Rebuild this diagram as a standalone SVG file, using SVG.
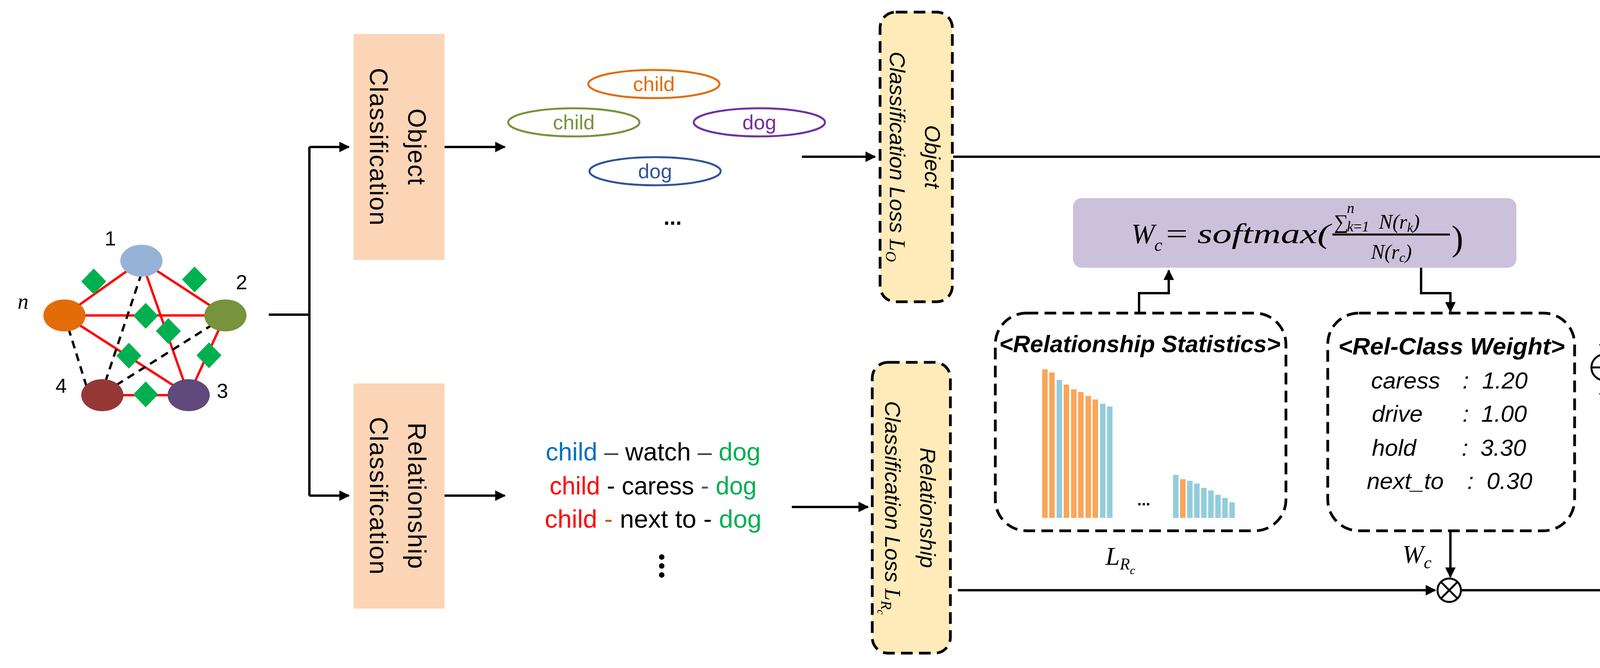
<svg xmlns="http://www.w3.org/2000/svg" width="4401" height="1709" viewBox="0 0 4401 1709">
<style>
.sans{font-family:"Liberation Sans",Arial,sans-serif}
.ser{font-family:"Liberation Serif","Times New Roman",serif;font-style:italic}
.red{stroke:#FF0000;stroke-width:6;fill:none}
.dsh{stroke:#000;stroke-width:6;stroke-dasharray:20 14;fill:none}
.dia{fill:#00B050}
.ln{stroke:#000;stroke-width:6;fill:none}
.box{stroke:#000;stroke-width:7;stroke-dasharray:30 16}
.loss{fill:#FFEBB9}
.or{fill:#FBD5B5}
.lt{font-size:56px;font-style:italic}
.wt{font-size:60px;font-style:italic}
</style>
<defs>
<marker id="ar" viewBox="0 0 10 10" refX="9" refY="5" markerWidth="5" markerHeight="4.5" orient="auto" markerUnits="strokeWidth"><path d="M0,0 L10,5 L0,10 z" fill="#000"/></marker>
</defs>
<rect width="4401" height="1709" fill="#fff"/>

<g id="graph">
<line class="red" x1="165" y1="807" x2="362" y2="667"/>
<line class="red" x1="362" y1="667" x2="577" y2="807"/>
<line class="red" x1="165" y1="807" x2="577" y2="807"/>
<line class="red" x1="165" y1="807" x2="483" y2="1011"/>
<line class="red" x1="362" y1="667" x2="483" y2="1011"/>
<line class="red" x1="577" y1="807" x2="483" y2="1011"/>
<line class="red" x1="262" y1="1011" x2="483" y2="1011"/>
<line class="dsh" x1="165" y1="807" x2="225" y2="1000"/>
<line class="dsh" x1="362" y1="700" x2="262" y2="1000"/>
<line class="dsh" x1="545" y1="830" x2="290" y2="990"/>
<ellipse cx="362" cy="667" rx="54" ry="41" fill="#95B3D7"/>
<ellipse cx="577" cy="807" rx="54" ry="41" fill="#77933C"/>
<ellipse cx="165" cy="807" rx="54" ry="41" fill="#E36C09"/>
<ellipse cx="262" cy="1011" rx="54" ry="41" fill="#953735"/>
<ellipse cx="483" cy="1011" rx="54" ry="41" fill="#604A7B"/>
<g class="dia">
<path d="M240,687 L272,720 L240,753 L208,720 z"/>
<path d="M498,682 L530,715 L498,748 L466,715 z"/>
<path d="M373,775 L405,808 L373,841 L341,808 z"/>
<path d="M431,814 L463,847 L431,880 L399,847 z"/>
<path d="M330,877 L362,910 L330,943 L298,910 z"/>
<path d="M535,876 L567,909 L535,942 L503,909 z"/>
<path d="M373,976 L405,1009 L373,1042 L341,1009 z"/>
</g>
<g class="sans" font-size="52">
<text x="268" y="628">1</text>
<text x="604" y="740">2</text>
<text x="142" y="1005">4</text>
<text x="555" y="1018">3</text>
</g>
<text class="ser" x="45" y="790" font-size="56">n</text>
</g>

<g id="connectors">
<path class="ln" d="M688,805 H792"/>
<path class="ln" d="M792,376 V1268"/>
<line class="ln" x1="792" y1="376" x2="893" y2="376" marker-end="url(#ar)"/>
<line class="ln" x1="792" y1="1268" x2="893" y2="1268" marker-end="url(#ar)"/>
<line class="ln" x1="1138" y1="376" x2="1292" y2="376" marker-end="url(#ar)"/>
<line class="ln" x1="1138" y1="1268" x2="1292" y2="1268" marker-end="url(#ar)"/>
<line class="ln" x1="2053" y1="401" x2="2240" y2="401" marker-end="url(#ar)"/>
<line class="ln" x1="2027" y1="1297" x2="2222" y2="1297" marker-end="url(#ar)"/>
<path class="ln" d="M2440,401 H4107 V905" marker-end="url(#ar)"/>
<path class="ln" d="M2916,801 V750 H2992 V692" marker-end="url(#ar)"/>
<path class="ln" d="M3638,685 V750 H3713 V797" marker-end="url(#ar)"/>
<path class="ln" d="M3713,1358 V1476" marker-end="url(#ar)"/>
<line class="ln" x1="2452" y1="1510" x2="3674" y2="1510" marker-end="url(#ar)"/>
<path class="ln" d="M3742,1510 H4107 V985" marker-end="url(#ar)"/>
<line class="ln" x1="4141" y1="940" x2="4212" y2="940" marker-end="url(#ar)" stroke-width="4"/>
<circle cx="4107" cy="940" r="33" fill="none" stroke="#000" stroke-width="5"/>
<path d="M4074,940 H4140 M4107,907 V973" stroke="#000" stroke-width="5"/>
<circle cx="3710" cy="1510" r="30" fill="none" stroke="#000" stroke-width="5"/>
<path d="M3689,1489 L3731,1531 M3731,1489 L3689,1531" stroke="#000" stroke-width="5"/>
</g>

<g id="obj-cls">
<rect class="or" x="905" y="87" width="233" height="578"/>
<text class="sans" font-size="64" text-anchor="middle" letter-spacing="2" transform="translate(1021,376) rotate(90)"><tspan x="0" y="-24">Object</tspan><tspan x="0" y="74">Classification</tspan></text>
</g>
<g id="rel-cls">
<rect class="or" x="905" y="981" width="233" height="576"/>
<text class="sans" font-size="64" text-anchor="middle" letter-spacing="2" transform="translate(1021,1269) rotate(90)"><tspan x="0" y="-24">Relationship</tspan><tspan x="0" y="74">Classification</tspan></text>
</g>

<g id="objects" class="sans" font-size="52" text-anchor="middle">
<ellipse cx="1674" cy="215" rx="168" ry="36" fill="none" stroke="#E36C09" stroke-width="5"/>
<text x="1674" y="233" fill="#E36C09">child</text>
<ellipse cx="1469" cy="313" rx="168" ry="36" fill="none" stroke="#77933C" stroke-width="5"/>
<text x="1469" y="331" fill="#77933C">child</text>
<ellipse cx="1944" cy="313" rx="168" ry="36" fill="none" stroke="#7030A0" stroke-width="5"/>
<text x="1944" y="331" fill="#7030A0">dog</text>
<ellipse cx="1677" cy="438" rx="168" ry="36" fill="none" stroke="#2F5597" stroke-width="5"/>
<text x="1677" y="456" fill="#2F5597">dog</text>
<text x="1722" y="575" font-size="56" font-weight="bold">...</text>
</g>

<g id="relations" class="sans" font-size="64" text-anchor="middle">
<text x="1672" y="1178" textLength="550" lengthAdjust="spacingAndGlyphs"><tspan fill="#0070C0">child</tspan><tspan fill="#404040"> – </tspan><tspan fill="#000">watch</tspan><tspan fill="#404040"> – </tspan><tspan fill="#00B050">dog</tspan></text>
<text x="1672" y="1265" textLength="530" lengthAdjust="spacingAndGlyphs"><tspan fill="#FF0000">child</tspan><tspan fill="#000"> - caress </tspan><tspan fill="#595959">-</tspan><tspan fill="#00B050"> dog</tspan></text>
<text x="1672" y="1350" textLength="555" lengthAdjust="spacingAndGlyphs"><tspan fill="#FF0000">child</tspan><tspan fill="#C55A11"> - </tspan><tspan fill="#000">next to - </tspan><tspan fill="#00B050">dog</tspan></text>
<circle cx="1694" cy="1425" r="7"/><circle cx="1694" cy="1448" r="7"/><circle cx="1694" cy="1471" r="7"/>
</g>

<g id="obj-loss">
<rect class="box loss" x="2253" y="31" width="185" height="741" rx="40"/>
<text class="sans lt" text-anchor="middle" transform="translate(2345,401) rotate(90)"><tspan x="0" y="-23">Object</tspan><tspan x="0" y="67">Classification Loss <tspan font-family="Liberation Serif">L</tspan><tspan font-family="Liberation Serif" font-size="38" dy="10">O</tspan></tspan></text>
</g>
<g id="rel-loss">
<rect class="box loss" x="2233" y="927" width="200" height="744" rx="40"/>
<text class="sans lt" text-anchor="middle" transform="translate(2333,1299) rotate(90)"><tspan x="0" y="-23">Relationship</tspan><tspan x="0" y="67">Classification Loss <tspan font-family="Liberation Serif">L</tspan><tspan font-family="Liberation Serif" font-size="38" dy="10">R</tspan><tspan font-family="Liberation Serif" font-size="28" dy="10">c</tspan></tspan></text>
</g>
<g id="mixed-loss">
<rect class="box loss" x="4219" y="569" width="150" height="724" rx="30"/>
<text class="sans lt" text-anchor="middle" transform="translate(4294,931) rotate(90)" y="20">Mixed Loss <tspan font-family="Liberation Serif">L</tspan><tspan font-family="Liberation Serif" font-size="36" dy="10">MIX</tspan></text>
</g>

<g id="formula">
<rect x="2747" y="507" width="1135" height="178" rx="22" fill="#CCC1DA"/>
<g class="ser" fill="#000">
<text x="2896" y="622" font-size="72">W</text>
<text x="2955" y="642" font-size="46">c</text>
<text x="2985" y="622" font-size="72" textLength="420" lengthAdjust="spacingAndGlyphs"><tspan font-style="normal">=</tspan> softmax(</text>
<text x="3415" y="585" font-size="52" font-style="normal">∑</text>
<text x="3448" y="545" font-size="38">n</text>
<text x="3448" y="592" font-size="38">k<tspan font-style="normal">=</tspan>1</text>
<text x="3530" y="585" font-size="52">N(r<tspan font-size="34" dy="8">k</tspan><tspan dy="-8">)</tspan></text>
<text x="3562" y="662" font-size="52" text-anchor="middle">N(r<tspan font-size="34" dy="8">c</tspan><tspan dy="-8">)</tspan></text>
<text x="3716" y="640" font-size="90" font-style="normal">)</text>
</g>
<line x1="3411" y1="600" x2="3712" y2="600" stroke="#000" stroke-width="5"/>
</g>

<g id="rel-stats">
<rect class="box" x="2548" y="801" width="744" height="557" rx="80" fill="none"/>
<text class="sans" x="2918" y="901" font-size="62" font-weight="bold" font-style="italic" text-anchor="middle" textLength="720" lengthAdjust="spacingAndGlyphs">&lt;Relationship Statistics&gt;</text>
<g>
<rect x="2668" y="945" width="14" height="380" fill="#F9A65A"/>
<rect x="2686" y="953" width="14" height="372" fill="#F9A65A"/>
<rect x="2705" y="972" width="14" height="353" fill="#92CDDC"/>
<rect x="2723" y="984" width="14" height="341" fill="#F9A65A"/>
<rect x="2742" y="996" width="14" height="329" fill="#F9A65A"/>
<rect x="2760" y="1003" width="14" height="322" fill="#F9A65A"/>
<rect x="2779" y="1013" width="14" height="312" fill="#F9A65A"/>
<rect x="2797" y="1022" width="14" height="303" fill="#F9A65A"/>
<rect x="2816" y="1033" width="14" height="292" fill="#92CDDC"/>
<rect x="2834" y="1040" width="14" height="285" fill="#92CDDC"/>
<rect x="3003" y="1215" width="14" height="110" fill="#92CDDC"/>
<rect x="3021" y="1226" width="14" height="99" fill="#F9A65A"/>
<rect x="3039" y="1230" width="14" height="95" fill="#92CDDC"/>
<rect x="3057" y="1237" width="14" height="88" fill="#92CDDC"/>
<rect x="3075" y="1248" width="14" height="77" fill="#92CDDC"/>
<rect x="3093" y="1255" width="14" height="70" fill="#92CDDC"/>
<rect x="3111" y="1266" width="14" height="59" fill="#92CDDC"/>
<rect x="3129" y="1274" width="14" height="51" fill="#92CDDC"/>
<rect x="3147" y="1285" width="14" height="40" fill="#92CDDC"/>
</g>
<text class="sans" x="2928" y="1293" font-size="40" font-weight="bold" text-anchor="middle">...</text>
</g>

<g id="rel-weight" class="sans">
<rect class="box" x="3399" y="801" width="632" height="557" rx="80" fill="none"/>
<text x="3716" y="907" font-size="62" font-weight="bold" font-style="italic" text-anchor="middle" textLength="580" lengthAdjust="spacingAndGlyphs">&lt;Rel-Class Weight&gt;</text>
<g class="wt">
<text x="3510" y="994">caress</text><text x="3744" y="994">:</text><text x="3794" y="994">1.20</text>
<text x="3512" y="1079">drive</text><text x="3744" y="1079">:</text><text x="3792" y="1079">1.00</text>
<text x="3512" y="1166">hold</text><text x="3742" y="1166">:</text><text x="3790" y="1166">3.30</text>
<text x="3499" y="1251">next_to</text><text x="3756" y="1251">:</text><text x="3806" y="1251">0.30</text>
</g>
</g>

<g id="labels" class="ser">
<text x="4157" y="470" font-size="66">L<tspan font-size="46" dy="14">O</tspan></text>
<text x="4157" y="1461" font-size="66">L<tspan font-size="46" dy="14">R</tspan></text>
<text x="2830" y="1445" font-size="66">L<tspan font-size="42" dy="12">R</tspan><tspan font-size="30" dy="12">c</tspan></text>
<text x="3590" y="1440" font-size="66">W<tspan font-size="44" dy="14">c</tspan></text>
</g>
</svg>
